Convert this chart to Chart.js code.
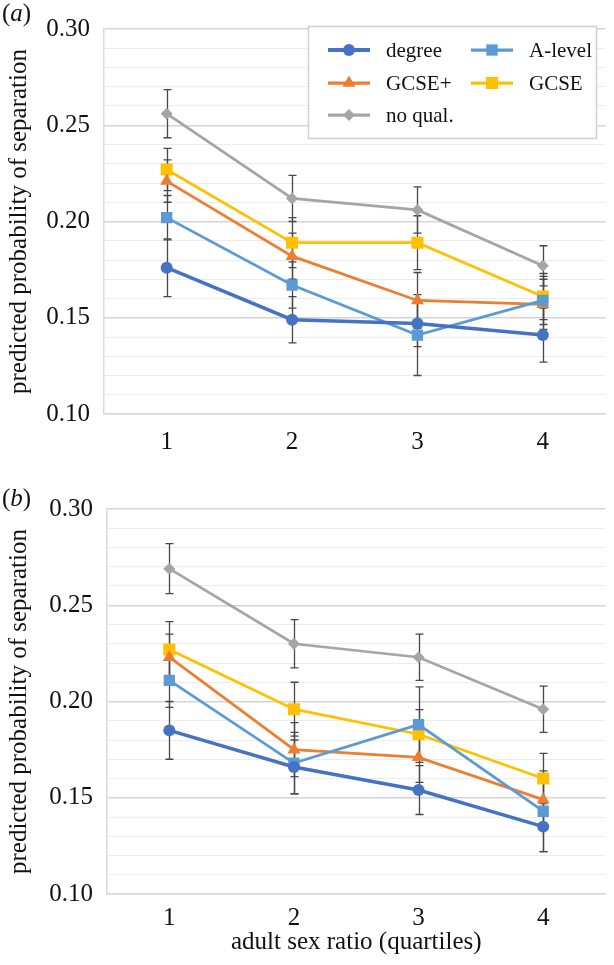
<!DOCTYPE html>
<html><head><meta charset="utf-8">
<script src="https://cdn.jsdelivr.net/npm/chart.js@4.4.1/dist/chart.umd.min.js"></script>
<style>
html,body{margin:0;padding:0;background:#fff;width:614px;height:965px;overflow:hidden;position:relative;font-family:'Liberation Serif','Times New Roman',serif;}
.wrap{position:absolute;left:0;}
.plabel{position:absolute;left:2px;font-size:25px;line-height:25px;color:#111;}
</style></head><body>
<div class="wrap" style="top:0;width:614px;height:470px"><canvas id="ca" width="614" height="470" style="width:614px;height:470px"></canvas></div>
<div class="wrap" style="top:480px;width:614px;height:485px"><canvas id="cb" width="614" height="485" style="width:614px;height:485px"></canvas></div>
<div class="plabel" style="top:0px">(<i>a</i>)</div>
<div class="plabel" style="top:485px">(<i>b</i>)</div>
<script>
// ---- data ----
const categories = ['1', '2', '3', '4'];
const seriesNames = ['degree', 'A-level', 'GCSE+', 'GCSE', 'no qual.'];
const yTickMin = 0.10, yTickMax = 0.30;

// panel (a)
const a_degree = [0.176, 0.149, 0.147, 0.141];
const a_alevel = [0.202, 0.167, 0.141, 0.159];
const a_gcseplus = [0.221, 0.182, 0.159, 0.157];
const a_gcse = [0.227, 0.189, 0.189, 0.161];
const a_noqual = [0.256, 0.212, 0.206, 0.177];
const a_err_degree = [0.015, 0.012, 0.012, 0.014];
const a_err_alevel = [0.0115, 0.012, 0.021, 0.0125];
const a_err_gcseplus = [0.011, 0.012, 0.0145, 0.013];
const a_err_gcse = [0.011, 0.013, 0.014, 0.012];
const a_err_noqual = [0.0125, 0.012, 0.012, 0.0104];

// panel (b)
const b_degree = [0.185, 0.166, 0.154, 0.135];
const b_alevel = [0.211, 0.168, 0.188, 0.143];
const b_gcseplus = [0.223, 0.175, 0.171, 0.149];
const b_gcse = [0.227, 0.196, 0.183, 0.160];
const b_noqual = [0.269, 0.230, 0.223, 0.196];
const b_err_degree = [0.015, 0.014, 0.0127, 0.013];
const b_err_alevel = [0.014, 0.016, 0.0196, 0.021];
const b_err_gcseplus = [0.012, 0.014, 0.013, 0.013];
const b_err_gcse = [0.0145, 0.014, 0.0128, 0.0131];
const b_err_noqual = [0.013, 0.0125, 0.012, 0.012];

// ---- styles ----
const FONT = "'Liberation Serif','Times New Roman',serif";
const styles = [
  {color: '#4472C4', pointStyle: 'circle', radius: 6, width: 3.5},
  {color: '#5B9BD5', pointStyle: 'rect', radius: 8, width: 2.75},
  {color: '#ED7D31', pointStyle: 'triangle', radius: 7.5, width: 2.75},
  {color: '#FFC000', pointStyle: 'rect', radius: 8.5, width: 2.75},
  {color: '#A5A5A5', pointStyle: 'rectRot', radius: 6, width: 2.75}
];

function makeDatasets(vals, errs) {
  return vals.map((v, i) => ({
    label: seriesNames[i],
    data: v,
    errors: errs[i],
    borderColor: styles[i].color,
    backgroundColor: styles[i].color,
    borderWidth: styles[i].width,
    pointStyle: styles[i].pointStyle,
    pointRadius: styles[i].radius,
    pointHoverRadius: styles[i].radius,
    pointBorderWidth: 0,
    pointBackgroundColor: styles[i].color,
    tension: 0
  }));
}

const errorBarPlugin = {
  id: 'errbars',
  beforeDatasetsDraw(chart) {
    const ctx = chart.ctx, xs = chart.scales.x, ys = chart.scales.y;
    ctx.save();
    ctx.strokeStyle = '#474747';
    ctx.lineWidth = 1.3;
    chart.data.datasets.forEach(ds => {
      ds.data.forEach((v, j) => {
        const e = ds.errors[j];
        const x = Math.round(xs.getPixelForValue(j)) + 0.5;
        const y1 = ys.getPixelForValue(v + e), y2 = ys.getPixelForValue(v - e);
        ctx.beginPath();
        ctx.moveTo(x, y1); ctx.lineTo(x, y2);
        ctx.moveTo(x - 4, y1); ctx.lineTo(x + 4, y1);
        ctx.moveTo(x - 4, y2); ctx.lineTo(x + 4, y2);
        ctx.stroke();
      });
    });
    ctx.restore();
  }
};

function drawMarker(ctx, style, r, x, y) {
  ctx.beginPath();
  if (style === 'circle') {
    ctx.arc(x, y, r, 0, Math.PI * 2);
  } else if (style === 'rect') {
    const s = r * Math.SQRT1_2;
    ctx.rect(x - s, y - s, 2 * s, 2 * s);
  } else if (style === 'triangle') {
    ctx.moveTo(x, y - r);
    ctx.lineTo(x + Math.sin(2 * Math.PI / 3) * r, y - Math.cos(2 * Math.PI / 3) * r);
    ctx.lineTo(x + Math.sin(4 * Math.PI / 3) * r, y - Math.cos(4 * Math.PI / 3) * r);
    ctx.closePath();
  } else if (style === 'rectRot') {
    ctx.moveTo(x, y - r); ctx.lineTo(x + r, y); ctx.lineTo(x, y + r); ctx.lineTo(x - r, y);
    ctx.closePath();
  }
  ctx.fill();
}

const legendPlugin = {
  id: 'boxlegend',
  afterDraw(chart) {
    const ctx = chart.ctx;
    ctx.save();
    const bx = 308.5, by = 26.5, bw = 288, bh = 112;
    ctx.fillStyle = '#fff';
    ctx.fillRect(bx, by, bw, bh);
    ctx.strokeStyle = '#d0d0d0';
    ctx.lineWidth = 1.5;
    ctx.strokeRect(bx, by, bw, bh);
    const pos = [[328, 50], [471, 50], [328, 83], [471, 83], [328, 115]];
    ctx.font = '21px ' + FONT;
    ctx.textBaseline = 'middle';
    ctx.textAlign = 'left';
    chart.data.datasets.forEach((ds, i) => {
      const [lx, ly] = pos[i];
      ctx.strokeStyle = ds.borderColor;
      ctx.lineWidth = ds.borderWidth + 0.5;
      ctx.beginPath(); ctx.moveTo(lx, ly); ctx.lineTo(lx + 42, ly); ctx.stroke();
      ctx.fillStyle = ds.borderColor;
      drawMarker(ctx, ds.pointStyle, ds.pointRadius, lx + 21, ly);
      ctx.fillStyle = '#111';
      ctx.fillText(ds.label, lx + 58, ly + 1);
    });
    ctx.restore();
  }
};

function makeChart(id, vals, errs, opts) {
  return new Chart(document.getElementById(id), {
    type: 'line',
    data: {labels: categories, datasets: makeDatasets(vals, errs)},
    plugins: opts.legend ? [errorBarPlugin, legendPlugin] : [errorBarPlugin],
    options: {
      responsive: false,
      animation: false,
      devicePixelRatio: 1,
      layout: {padding: {top: opts.top, right: 2, left: 0, bottom: 0}},
      plugins: {legend: {display: false}, tooltip: {enabled: false}},
      scales: {
        x: {
          type: 'category',
          offset: true,
          grid: {display: false, drawTicks: false},
          border: {display: true, color: '#d9d9d9', width: 1.5},
          ticks: {color: '#111', font: {family: FONT, size: 25}, padding: opts.xpad, maxRotation: 0},
          title: {display: !!opts.xTitle, text: opts.xTitle || '', color: '#111',
                  font: {family: FONT, size: 25}, padding: {top: 0, bottom: 8}},
          afterFit(s) { s.height = opts.xh; }
        },
        y: {
          min: yTickMin, max: yTickMax,
          grid: {
            drawTicks: false,
            color: c => (Math.round(c.tick.value * 100) % 5 === 0) ? '#d4d4d4' : '#ececec',
            lineWidth: c => (Math.round(c.tick.value * 100) % 5 === 0) ? 1.5 : 1
          },
          border: {display: true, color: '#d9d9d9', width: 1.5},
          ticks: {
            stepSize: 0.01, autoSkip: false, color: '#111', padding: 14,
            font: {family: FONT, size: 25},
            callback: v => (Math.round(v * 100) % 5 === 0) ? v.toFixed(2) : ''
          },
          title: {display: true, text: 'predicted probability of separation', color: '#111',
                  font: {family: FONT, size: 25}, padding: {top: 4, bottom: 0}},
          afterFit(s) { s.width = opts.yw; }
        }
      }
    }
  });
}

makeChart('ca',
  [a_degree, a_alevel, a_gcseplus, a_gcse, a_noqual],
  [a_err_degree, a_err_alevel, a_err_gcseplus, a_err_gcse, a_err_noqual],
  {legend: true, top: 22, xh: 56, yw: 104, xpad: 13});
makeChart('cb',
  [b_degree, b_alevel, b_gcseplus, b_gcse, b_noqual],
  [b_err_degree, b_err_alevel, b_err_gcseplus, b_err_gcse, b_err_noqual],
  {legend: false, top: 23, xh: 71, yw: 107, xpad: 9, xTitle: 'adult sex ratio (quartiles)'});
</script>
</body></html>
